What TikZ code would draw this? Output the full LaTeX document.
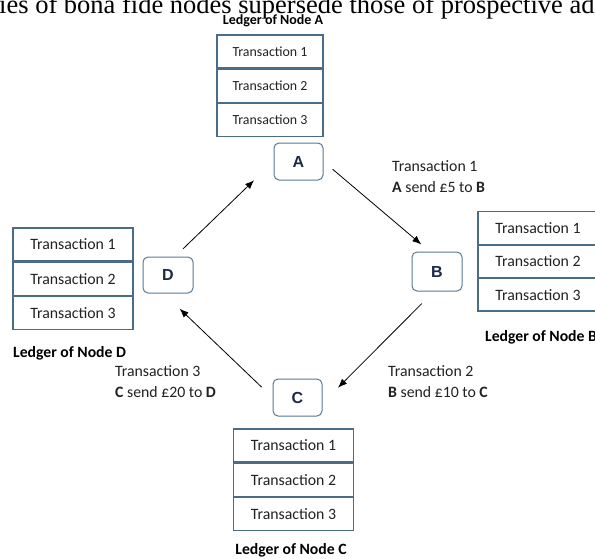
\documentclass[tikz,border=0pt]{standalone}
\usepackage{fontspec}
\setmainfont{Carlito}
\newfontfamily\pageserif{Liberation Serif}
\newfontfamily\peerfont{Liberation Sans}
\usetikzlibrary{arrows.meta,positioning}

\definecolor{ledgerline}{RGB}{74,108,136}
\definecolor{peerline}{RGB}{88,122,150}
\definecolor{peertext}{RGB}{28,42,72}
\definecolor{rowtext}{RGB}{34,34,34}

\begin{document}
\begin{tikzpicture}[x=1pt,y=1pt,yscale=-1,xscale=1,
  rowsmall/.style={draw=ledgerline,line width=1.1pt,minimum width=106pt,minimum height=33pt,inner sep=0pt,
    text=rowtext,font=\fontsize{13.9}{16}\selectfont},
  rowbig/.style={draw=ledgerline,line width=1.1pt,minimum width=120pt,minimum height=33pt,inner sep=0pt,
    text=rowtext,font=\fontsize{15.8}{18}\selectfont},
  ledgertitle/.style={inner sep=0pt,font=\fontsize{15.7}{18}\selectfont\bfseries},
  peer/.style={draw=peerline,line width=1pt,rounded corners=5pt,minimum width=49pt,minimum height=37pt,
    inner sep=0pt,text=peertext,font=\fontsize{16}{18}\peerfont\bfseries},
  note/.style={align=left,inner sep=0pt,text=rowtext,font=\fontsize{15.8}{21}\selectfont},
  link/.style={line width=0.8pt,-{Latex[length=9pt,width=7pt]}}]
%set diagram window 595 x 558
\clip (0,0) rectangle (595,558);
\fill [white] (0,0) rectangle (595,558);

%line of the page above the figure
\node (pageline) [anchor=base west,inner sep=0pt,font=\fontsize{26.5}{30}\pageserif] at (-1,13.3)
  {ies of bona fide nodes supersede those of prospective ad};

%ledger of node A
\node (ledA1) [rowsmall] at (270,51.5) {Transaction 1};
\node (ledA2) [rowsmall,below=0pt of ledA1] {Transaction 2};
\node (ledA3) [rowsmall,below=0pt of ledA2] {Transaction 3};
\node (titleA) [ledgertitle,font=\fontsize{14}{16}\selectfont\bfseries] at (273,20.5) {Ledger of Node A};

%ledger of node B
\node (ledB1) [rowbig,minimum height=32.3pt] at (538,228) {Transaction 1};
\node (ledB2) [rowbig,minimum height=32.3pt,below=0pt of ledB1] {Transaction 2};
\node (ledB3) [rowbig,minimum height=32.3pt,below=0pt of ledB2] {Transaction 3};
\node (titleB) [ledgertitle,anchor=west] at (485,337) {Ledger of Node B};

%ledger of node C
\node (ledC1) [rowbig] at (293.5,445.5) {Transaction 1};
\node (ledC2) [rowbig,below=0pt of ledC1] {Transaction 2};
\node (ledC3) [rowbig,below=0pt of ledC2] {Transaction 3};
\node (titleC) [ledgertitle] at (291,550) {Ledger of Node C};

%ledger of node D
\node (ledD1) [rowbig] at (73,244.5) {Transaction 1};
\node (ledD2) [rowbig,below=0pt of ledD1] {Transaction 2};
\node (ledD3) [rowbig,below=0pt of ledD2] {Transaction 3};
\node (titleD) [ledgertitle,anchor=west] at (13,353.5) {Ledger of Node D};

%the four nodes
\node (A) [peer] at (298.5,161.5) {A};
\node (B) [peer,minimum width=50pt,minimum height=39pt] at (437,271.5) {B};
\node (C) [peer] at (297.5,397.5) {C};
\node (D) [peer,minimum width=50pt,minimum height=36pt] at (168,275) {D};

\draw [link,shorten <=11pt,shorten >=27pt] (D.69) -- (A.west);
\draw [link,shorten <=12pt,shorten >=11pt] (A.east) -- (B.110);
\draw [link,shorten <=17pt,shorten >=22pt] (B.261) -- (C.347);
\draw [link,shorten <=15pt,shorten >=22pt] (C.west) -- (D.257);

%what each transfer says
\node (sendAB) [note,anchor=west] at (392,177) {Transaction 1\\\textbf{A} send £5 to \textbf{B}};
\node (sendBC) [note,anchor=west] at (388,382) {Transaction 2\\\textbf{B} send £10 to \textbf{C}};
\node (sendCD) [note,anchor=west] at (115,382) {Transaction 3\\\textbf{C} send £20 to \textbf{D}};

\end{tikzpicture}
\end{document}
